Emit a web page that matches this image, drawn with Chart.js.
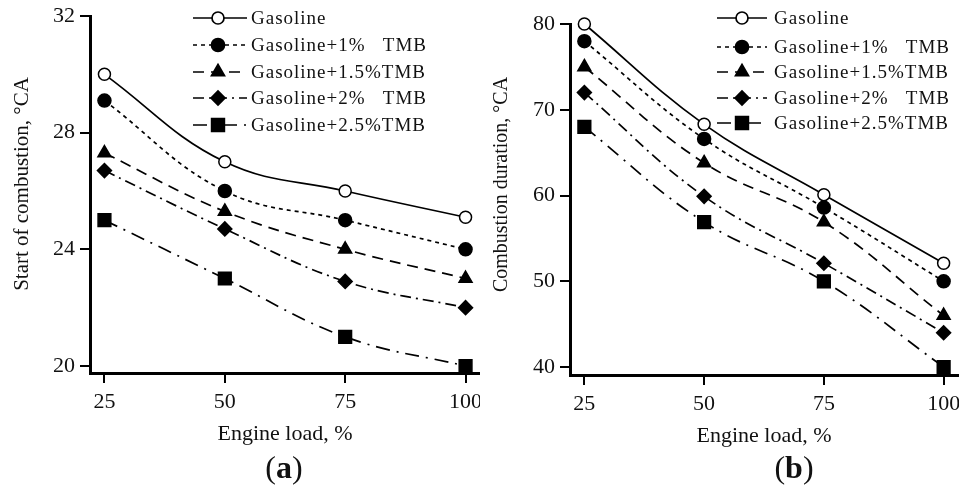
<!DOCTYPE html>
<html>
<head>
<meta charset="utf-8">
<script src="https://cdn.jsdelivr.net/npm/chart.js@4.4.0/dist/chart.umd.min.js"></script>
<style>
  html, body { margin: 0; padding: 0; background: #fff; }
  #wrap { position: relative; width: 959px; height: 488px; overflow: hidden; }
  .panel { position: absolute; top: 0; height: 488px; }
  .tag { position: absolute; top: 449px; width: 80px; margin-left: -40px; text-align: center;
         font: 32px "Liberation Serif", serif; color: #111; line-height: 36px; }
  .tag b { font-weight: bold; }
</style>
</head>
<body>
<div id="wrap">
  <div class="panel" style="left:0;width:480px"><canvas id="chartA"></canvas></div>
  <div class="panel" style="left:480px;width:479px"><canvas id="chartB"></canvas></div>
  <div class="tag" style="left:284px">(<b>a</b>)</div>
  <div class="tag" style="left:794px">(<b>b</b>)</div>
</div>
<script>
// engine load, %
const loads = [25, 50, 75, 100];
const seriesNames = ['Gasoline', 'Gasoline+1%   TMB', 'Gasoline+1.5%TMB', 'Gasoline+2%   TMB', 'Gasoline+2.5%TMB'];

// (a) start of combustion, °CA
const socGasoline = [30.0, 27.0, 26.0, 25.1];
const socTmb1 = [29.1, 26.0, 25.0, 24.0];
const socTmb15 = [27.3, 25.3, 24.0, 23.0];
const socTmb2 = [26.7, 24.7, 22.9, 22.0];
const socTmb25 = [25.0, 23.0, 21.0, 20.0];

// (b) combustion duration, °CA
const cdGasoline = [80.0, 68.3, 60.1, 52.1];
const cdTmb1 = [78.0, 66.6, 58.6, 50.0];
const cdTmb15 = [75.0, 63.8, 56.9, 46.0];
const cdTmb2 = [72.0, 59.9, 52.1, 44.0];
const cdTmb25 = [68.0, 56.9, 50.0, 40.0];

const xTicks = [25, 50, 75, 100];
const yTicksA = [20, 24, 28, 32];
const yTicksB = [40, 50, 60, 70, 80];

const serif = '"Liberation Serif", "Times New Roman", serif';
const ink = '#111';

// line look of each series, same order as seriesNames
const looks = [
  { dash: [], style: 'circle', radius: 6, fill: '#fff' },
  { dash: [4, 4], style: 'circle', radius: 6.5, fill: '#000' },
  { dash: [11, 7], style: 'triangle', radius: 7.5, fill: '#000' },
  { dash: [11, 5, 2, 5], style: 'rectRot', radius: 7, fill: '#000' },
  { dash: [14, 7, 2, 7], style: 'rect', radius: 9, fill: '#000' }
];

function makeSets(values) {
  return values.map((v, i) => ({
    label: seriesNames[i],
    data: loads.map((x, j) => ({ x: x, y: v[j] })),
    borderColor: '#000',
    borderWidth: 1.7,
    borderDash: looks[i].dash,
    pointStyle: looks[i].style,
    pointRadius: looks[i].radius,
    pointHoverRadius: looks[i].radius,
    pointBackgroundColor: looks[i].fill,
    pointBorderColor: '#000',
    pointBorderWidth: 1.5,
    tension: 0.4,
    clip: false,
    fill: false
  })).reverse();
}

// legend drawn inside the plot like the paper figure
const paperLegend = {
  id: 'paperLegend',
  afterDraw(chart, args, opts) {
    const ctx = chart.ctx;
    ctx.save();
    looks.forEach((lk, i) => {
      const y = opts.rows[i];
      ctx.strokeStyle = '#000';
      ctx.lineWidth = 1.7;
      ctx.setLineDash(lk.dash);
      ctx.beginPath();
      ctx.moveTo(opts.x0, y);
      ctx.lineTo(opts.x1, y);
      ctx.stroke();
      ctx.setLineDash([]);
      ctx.fillStyle = lk.fill;
      Chart.helpers.drawPoint(ctx, { pointStyle: lk.style, radius: lk.radius, rotation: 0, borderWidth: 1.5 }, opts.xm, y);
      ctx.fillStyle = ink;
      ctx.font = '19px ' + serif;
      ctx.letterSpacing = '1px';
      ctx.textBaseline = 'middle';
      ctx.textAlign = 'left';
      ctx.fillText(seriesNames[i], opts.xt, y + 1);
    });
    ctx.restore();
  }
};

function axisBase() {
  return {
    grid: { display: true, drawOnChartArea: false, drawTicks: true, tickLength: 10, color: '#000', lineWidth: 2 },
    border: { display: true, color: '#000', width: 3 },
    ticks: { color: ink, font: { family: serif, size: 22 }, padding: 5 }
  };
}

function build(id, values, yMin, yMax, yTicks, yTitle, titleSize, pad, rows, lx) {
  const x = axisBase();
  x.type = 'linear';
  x.min = 22;
  x.max = 103;
  x.ticks.padding = 6;
  x.afterBuildTicks = s => { s.ticks = xTicks.map(v => ({ value: v })); };
  x.afterFit = s => { s.height = 78; s.paddingLeft = 0; s.paddingRight = 0; };
  x.title = { display: true, text: 'Engine load, %', color: ink, font: { family: serif, size: 22 }, padding: { top: 4, bottom: 4 } };

  const y = axisBase();
  y.type = 'linear';
  y.min = yMin;
  y.max = yMax;
  y.afterBuildTicks = s => { s.ticks = yTicks.map(v => ({ value: v })); };
  y.afterFit = s => { s.width = 84; s.paddingTop = 0; s.paddingBottom = 0; };
  y.title = { display: true, text: yTitle, color: ink, font: { family: serif, size: titleSize }, padding: { top: 4, bottom: 4 } };

  return new Chart(document.getElementById(id), {
    type: 'line',
    data: { datasets: makeSets(values) },
    options: {
      responsive: true,
      maintainAspectRatio: false,
      animation: false,
      events: [],
      layout: { autoPadding: false, padding: pad },
      scales: { x: x, y: y },
      plugins: {
        legend: { display: false },
        tooltip: { enabled: false },
        paperLegend: { rows: rows, x0: lx[0], x1: lx[1], xm: lx[2], xt: lx[3] }
      }
    },
    plugins: [paperLegend]
  });
}

build('chartA', [socGasoline, socTmb1, socTmb15, socTmb2, socTmb25], 19.76, 32, yTicksA,
  '    Start of combustion, \u00B0CA', 21, { left: 6, top: 16, right: 0, bottom: 37 },
  [18, 45, 72, 98, 125], [193, 247, 218, 251]);

build('chartB', [cdGasoline, cdTmb1, cdTmb15, cdTmb2, cdTmb25], 39.07, 80, yTicksB,
  '      Combustion duration, \u00B0CA', 20, { left: 6, top: 24, right: 1, bottom: 35 },
  [18, 47, 72, 98, 123], [237, 287, 262, 294]);
</script>
</body>
</html>
